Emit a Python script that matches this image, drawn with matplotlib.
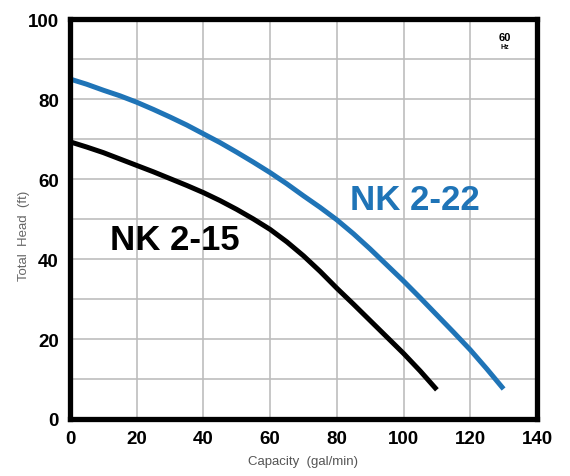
import numpy as np
import matplotlib.pyplot as plt

plt.rcParams['font.family'] = ['Liberation Sans', 'DejaVu Sans']

# NK 2-22 (blue) and NK 2-15 (black) pump curves, 60 Hz
q_22 = [0, 5, 10, 15, 20, 25, 30, 35, 40, 45, 50, 55, 60, 65,
        70, 75, 80, 85, 90, 95, 100, 105, 110, 115, 120, 125, 130]
h_22 = [85, 83.7, 82.2, 80.8, 79.2, 77.4, 75.5, 73.5, 71.3, 69.1, 66.7, 64.2, 61.6, 58.8,
        55.8, 52.9, 49.8, 46.3, 42.5, 38.5, 34.5, 30.3, 26, 21.7, 17.3, 12.5, 7.5]
q_15 = [0, 5, 10, 15, 20, 25, 30, 35, 40, 45, 50, 55,
        60, 65, 70, 75, 80, 85, 90, 95, 100, 105, 110]
h_15 = [69.3, 68, 66.6, 65, 63.4, 61.8, 60.1, 58.4, 56.6, 54.6, 52.4, 50,
        47.4, 44.3, 40.8, 36.9, 32.7, 28.7, 24.6, 20.5, 16.4, 12, 7.3]

x_ticks = [0, 20, 40, 60, 80, 100, 120, 140]
y_ticks = [0, 20, 40, 60, 80, 100]

blue = '#1f74b7'

fig = plt.figure(figsize=(5.7, 4.77), dpi=100)
ax = fig.add_axes([0.1228, 0.1195, 0.8192, 0.8385])

ax.set_xlim(0, 140)
ax.set_ylim(0, 100)
ax.set_xticks(x_ticks)
ax.set_yticks(y_ticks)
ax.set_yticks(np.arange(10, 100, 20), minor=True)
ax.grid(True, which='both', color='#bdbdbd', linewidth=1.2)
ax.set_axisbelow(True)
ax.tick_params(which='both', length=0)
ax.tick_params(axis='x', pad=8)
ax.tick_params(axis='y', pad=8)
for lab in ax.get_xticklabels() + ax.get_yticklabels():
    lab.set_fontweight('bold')
    lab.set_fontsize(13.5)
for s in ax.spines.values():
    s.set_linewidth(3.8)
    s.set_color('black')

ax.plot(q_22, h_22, color=blue, linewidth=3.6, solid_capstyle='butt', clip_on=False)
ax.plot(q_15, h_15, color='black', linewidth=3.6, solid_capstyle='butt', clip_on=False)

ax.text(103.5, 55, 'NK 2-22', color=blue, fontsize=25, fontweight='bold',
        ha='center', va='center')
ax.text(31.5, 45, 'NK 2-15', color='black', fontsize=25, fontweight='bold',
        ha='center', va='center')

ax.text(130.5, 95.5, '60', fontsize=8, fontweight='bold', ha='center', va='center')
ax.text(130.5, 93.2, 'Hz', fontsize=5, fontweight='bold', ha='center', va='center')

ax.set_xlabel('Capacity  (gal/min)', fontsize=9.5, color='#555555', labelpad=6)
ax.set_ylabel('Total  Head  (ft)', fontsize=9.5, color='#666666')
ax.yaxis.set_label_coords(-0.086, 0.46)

fig.savefig('out.png', dpi=100)
